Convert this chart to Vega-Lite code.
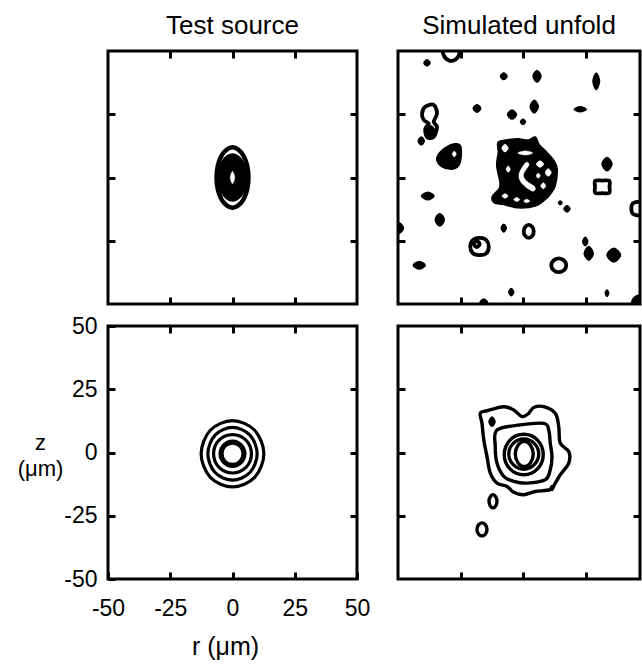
{
"$schema":"https://vega.github.io/schema/vega-lite/v6.json",
"padding":{"left":15,"top":11,"right":0,"bottom":0},
"bounds":"flush",
"columns":2,
"spacing":{"row":22,"column":41},
"datasets":{
"lines":[
{"p":"TL","c":"e1","o":1,"x":6.4,"y":0},{"p":"TL","c":"e1","o":2,"x":4.5,"y":8.5},{"p":"TL","c":"e1","o":3,"x":0,"y":12},{"p":"TL","c":"e1","o":4,"x":-4.5,"y":8.5},{"p":"TL","c":"e1","o":5,"x":-6.4,"y":0},{"p":"TL","c":"e1","o":6,"x":-4.5,"y":-8.5},{"p":"TL","c":"e1","o":7,"x":0,"y":-12},{"p":"TL","c":"e1","o":8,"x":4.5,"y":-8.5},
{"p":"BL","c":"c1","o":1,"x":12.6,"y":-0.5},{"p":"BL","c":"c1","o":2,"x":8.9,"y":8.8},{"p":"BL","c":"c1","o":3,"x":0,"y":12.6},{"p":"BL","c":"c1","o":4,"x":-8.9,"y":8.8},{"p":"BL","c":"c1","o":5,"x":-12.6,"y":-0.5},{"p":"BL","c":"c1","o":6,"x":-8.9,"y":-9.8},{"p":"BL","c":"c1","o":7,"x":0,"y":-13.6},{"p":"BL","c":"c1","o":8,"x":8.9,"y":-9.8},
{"p":"BL","c":"c2","o":1,"x":9.9,"y":-0.5},{"p":"BL","c":"c2","o":2,"x":7,"y":6.9},{"p":"BL","c":"c2","o":3,"x":0,"y":9.9},{"p":"BL","c":"c2","o":4,"x":-7,"y":6.9},{"p":"BL","c":"c2","o":5,"x":-9.9,"y":-0.5},{"p":"BL","c":"c2","o":6,"x":-7,"y":-7.9},{"p":"BL","c":"c2","o":7,"x":0,"y":-10.9},{"p":"BL","c":"c2","o":8,"x":7,"y":-7.9},
{"p":"BL","c":"c3","o":1,"x":7.6,"y":-0.5},{"p":"BL","c":"c3","o":2,"x":5.4,"y":4.9},{"p":"BL","c":"c3","o":3,"x":0,"y":7.1},{"p":"BL","c":"c3","o":4,"x":-5.4,"y":4.9},{"p":"BL","c":"c3","o":5,"x":-7.6,"y":-0.5},{"p":"BL","c":"c3","o":6,"x":-5.4,"y":-5.9},{"p":"BL","c":"c3","o":7,"x":0,"y":-8.1},{"p":"BL","c":"c3","o":8,"x":5.4,"y":-5.9},
{"p":"BL","c":"c4","o":1,"x":5,"y":-0.5},{"p":"BL","c":"c4","o":2,"x":3.5,"y":3},{"p":"BL","c":"c4","o":3,"x":0,"y":4.5},{"p":"BL","c":"c4","o":4,"x":-3.5,"y":3},{"p":"BL","c":"c4","o":5,"x":-5,"y":-0.5},{"p":"BL","c":"c4","o":6,"x":-3.5,"y":-4},{"p":"BL","c":"c4","o":7,"x":0,"y":-5.5},{"p":"BL","c":"c4","o":8,"x":3.5,"y":-4},
{"p":"BL","c":"c5","o":1,"x":4.2,"y":-0.5},{"p":"BL","c":"c5","o":2,"x":3,"y":2.5},{"p":"BL","c":"c5","o":3,"x":0,"y":3.7},{"p":"BL","c":"c5","o":4,"x":-3,"y":2.5},{"p":"BL","c":"c5","o":5,"x":-4.2,"y":-0.5},{"p":"BL","c":"c5","o":6,"x":-3,"y":-3.5},{"p":"BL","c":"c5","o":7,"x":0,"y":-4.7},{"p":"BL","c":"c5","o":8,"x":3,"y":-3.5},
{"p":"BR","c":"o1","o":1,"x":-17.1,"y":15.5},{"p":"BR","c":"o1","o":2,"x":-14.4,"y":16.5},{"p":"BR","c":"o1","o":3,"x":-7.7,"y":18.1},{"p":"BR","c":"o1","o":4,"x":-3.7,"y":16.8},{"p":"BR","c":"o1","o":5,"x":-0.4,"y":14.2},{"p":"BR","c":"o1","o":6,"x":2.3,"y":15.5},{"p":"BR","c":"o1","o":7,"x":4.3,"y":17.8},{"p":"BR","c":"o1","o":8,"x":8.3,"y":18.1},{"p":"BR","c":"o1","o":9,"x":12.9,"y":15.5},{"p":"BR","c":"o1","o":10,"x":14.3,"y":10.2},{"p":"BR","c":"o1","o":11,"x":14.9,"y":3.7},{"p":"BR","c":"o1","o":12,"x":18.3,"y":0.4},{"p":"BR","c":"o1","o":13,"x":18.3,"y":-4.2},{"p":"BR","c":"o1","o":14,"x":14.9,"y":-8.8},{"p":"BR","c":"o1","o":15,"x":12.9,"y":-12.1},{"p":"BR","c":"o1","o":16,"x":10.9,"y":-14.7},{"p":"BR","c":"o1","o":17,"x":4.9,"y":-15.4},{"p":"BR","c":"o1","o":18,"x":0.3,"y":-16.7},{"p":"BR","c":"o1","o":19,"x":-3.7,"y":-15.7},{"p":"BR","c":"o1","o":20,"x":-6.4,"y":-13.4},{"p":"BR","c":"o1","o":21,"x":-10.4,"y":-12.1},{"p":"BR","c":"o1","o":22,"x":-13.1,"y":-8.1},{"p":"BR","c":"o1","o":23,"x":-14.4,"y":-1.6},{"p":"BR","c":"o1","o":24,"x":-15.7,"y":5},{"p":"BR","c":"o1","o":25,"x":-16.4,"y":11.5},
{"p":"BR","c":"o2","o":1,"x":-10.4,"y":8.9},{"p":"BR","c":"o2","o":2,"x":-1.1,"y":10.9},{"p":"BR","c":"o2","o":3,"x":8.3,"y":11.5},{"p":"BR","c":"o2","o":4,"x":10.3,"y":8.9},{"p":"BR","c":"o2","o":5,"x":10.9,"y":3.7},{"p":"BR","c":"o2","o":6,"x":11.6,"y":-1.6},{"p":"BR","c":"o2","o":7,"x":10.9,"y":-6.8},{"p":"BR","c":"o2","o":8,"x":8.9,"y":-10.8},{"p":"BR","c":"o2","o":9,"x":1.6,"y":-12.1},{"p":"BR","c":"o2","o":10,"x":-3.7,"y":-11.4},{"p":"BR","c":"o2","o":11,"x":-7.7,"y":-9.4},{"p":"BR","c":"o2","o":12,"x":-10.4,"y":-4.2},{"p":"BR","c":"o2","o":13,"x":-11.1,"y":2.4},
{"p":"BR","c":"o3","o":1,"x":8.1,"y":-0.8},{"p":"BR","c":"o3","o":2,"x":5.8,"y":4.9},{"p":"BR","c":"o3","o":3,"x":0.3,"y":7.2},{"p":"BR","c":"o3","o":4,"x":-5.2,"y":4.9},{"p":"BR","c":"o3","o":5,"x":-7.5,"y":-0.8},{"p":"BR","c":"o3","o":6,"x":-5.2,"y":-6.5},{"p":"BR","c":"o3","o":7,"x":0.3,"y":-8.8},{"p":"BR","c":"o3","o":8,"x":5.8,"y":-6.5},
{"p":"BR","c":"o4","o":1,"x":6.3,"y":-0.6},{"p":"BR","c":"o4","o":2,"x":4.5,"y":3.6},{"p":"BR","c":"o4","o":3,"x":0.3,"y":5.4},{"p":"BR","c":"o4","o":4,"x":-3.9,"y":3.6},{"p":"BR","c":"o4","o":5,"x":-5.7,"y":-0.6},{"p":"BR","c":"o4","o":6,"x":-3.9,"y":-4.8},{"p":"BR","c":"o4","o":7,"x":0.3,"y":-6.6},{"p":"BR","c":"o4","o":8,"x":4.5,"y":-4.8},
{"p":"BR","c":"o5","o":1,"x":4.1,"y":-0.6},{"p":"BR","c":"o5","o":2,"x":3,"y":2.9},{"p":"BR","c":"o5","o":3,"x":0.5,"y":4.4},{"p":"BR","c":"o5","o":4,"x":-2,"y":2.9},{"p":"BR","c":"o5","o":5,"x":-3.1,"y":-0.6},{"p":"BR","c":"o5","o":6,"x":-2,"y":-4.1},{"p":"BR","c":"o5","o":7,"x":0.5,"y":-5.6},{"p":"BR","c":"o5","o":8,"x":3,"y":-4.1},
{"p":"BR","c":"o6","o":1,"x":-10.4,"y":-19.3},{"p":"BR","c":"o6","o":2,"x":-10.9,"y":-17.5},{"p":"BR","c":"o6","o":3,"x":-12,"y":-16.7},{"p":"BR","c":"o6","o":4,"x":-13.1,"y":-17.5},{"p":"BR","c":"o6","o":5,"x":-13.6,"y":-19.3},{"p":"BR","c":"o6","o":6,"x":-13.1,"y":-21.1},{"p":"BR","c":"o6","o":7,"x":-12,"y":-21.9},{"p":"BR","c":"o6","o":8,"x":-10.9,"y":-21.1},
{"p":"BR","c":"o7","o":1,"x":-14.4,"y":-30.4},{"p":"BR","c":"o7","o":2,"x":-15,"y":-28.6},{"p":"BR","c":"o7","o":3,"x":-16.4,"y":-27.8},{"p":"BR","c":"o7","o":4,"x":-17.8,"y":-28.6},{"p":"BR","c":"o7","o":5,"x":-18.4,"y":-30.4},{"p":"BR","c":"o7","o":6,"x":-17.8,"y":-32.2},{"p":"BR","c":"o7","o":7,"x":-16.4,"y":-33},{"p":"BR","c":"o7","o":8,"x":-15,"y":-32.2},
{"p":"TR","c":"t1","o":1,"x":-31.8,"y":52},{"p":"TR","c":"t1","o":2,"x":-31.7,"y":48.3},{"p":"TR","c":"t1","o":3,"x":-29.5,"y":46.2},{"p":"TR","c":"t1","o":4,"x":-27,"y":46.6},{"p":"TR","c":"t1","o":5,"x":-25.6,"y":48.5},{"p":"TR","c":"t1","o":6,"x":-25.4,"y":52},
{"p":"TR","c":"t2","o":1,"x":-40.4,"y":25.3},{"p":"TR","c":"t2","o":2,"x":-39.1,"y":28},{"p":"TR","c":"t2","o":3,"x":-35.7,"y":28.7},{"p":"TR","c":"t2","o":4,"x":-34.4,"y":25.3},{"p":"TR","c":"t2","o":5,"x":-35.7,"y":22},{"p":"TR","c":"t2","o":6,"x":-34.4,"y":20},{"p":"TR","c":"t2","o":7,"x":-35.7,"y":16},{"p":"TR","c":"t2","o":8,"x":-38.4,"y":16},{"p":"TR","c":"t2","o":9,"x":-39.1,"y":19.3},{"p":"TR","c":"t2","o":10,"x":-37.7,"y":21.3},{"p":"TR","c":"t2","o":11,"x":-39.7,"y":22.7},
{"p":"TR","c":"t3","o":1,"x":28.9,"y":-1.3},{"p":"TR","c":"t3","o":2,"x":31.7,"y":-1.2},{"p":"TR","c":"t3","o":3,"x":34.5,"y":-1.3},{"p":"TR","c":"t3","o":4,"x":34.6,"y":-3.7},{"p":"TR","c":"t3","o":5,"x":34.5,"y":-6.1},{"p":"TR","c":"t3","o":6,"x":31.7,"y":-6.2},{"p":"TR","c":"t3","o":7,"x":28.9,"y":-6.1},{"p":"TR","c":"t3","o":8,"x":28.8,"y":-3.7},
{"p":"TR","c":"t4","o":1,"x":48.5,"y":-9.9},{"p":"TR","c":"t4","o":2,"x":44.5,"y":-9.9},{"p":"TR","c":"t4","o":3,"x":43.5,"y":-11},{"p":"TR","c":"t4","o":4,"x":43.5,"y":-13.5},{"p":"TR","c":"t4","o":5,"x":44.5,"y":-14.7},{"p":"TR","c":"t4","o":6,"x":48.5,"y":-14.7},
{"p":"TR","c":"t5","o":1,"x":4.3,"y":-21.3},{"p":"TR","c":"t5","o":2,"x":3.7,"y":-19.5},{"p":"TR","c":"t5","o":3,"x":2.3,"y":-18.7},{"p":"TR","c":"t5","o":4,"x":0.9,"y":-19.5},{"p":"TR","c":"t5","o":5,"x":0.3,"y":-21.3},{"p":"TR","c":"t5","o":6,"x":0.9,"y":-23.1},{"p":"TR","c":"t5","o":7,"x":2.3,"y":-23.9},{"p":"TR","c":"t5","o":8,"x":3.7,"y":-23.1},
{"p":"TR","c":"t6","o":1,"x":-13.7,"y":-27.5},{"p":"TR","c":"t6","o":2,"x":-14.6,"y":-24.8},{"p":"TR","c":"t6","o":3,"x":-17.2,"y":-23.9},{"p":"TR","c":"t6","o":4,"x":-19.9,"y":-24.6},{"p":"TR","c":"t6","o":5,"x":-21.1,"y":-27},{"p":"TR","c":"t6","o":6,"x":-20.2,"y":-29.8},{"p":"TR","c":"t6","o":7,"x":-17.6,"y":-30.7},{"p":"TR","c":"t6","o":8,"x":-14.8,"y":-30.1},
{"p":"TR","c":"t6b","o":1,"x":-17.3,"y":-26.3},{"p":"TR","c":"t6b","o":2,"x":-18.5,"y":-25.1},{"p":"TR","c":"t6b","o":3,"x":-19.7,"y":-26.3},{"p":"TR","c":"t6b","o":4,"x":-18.5,"y":-27.5},
{"p":"TR","c":"t7","o":1,"x":17.3,"y":-34.7},{"p":"TR","c":"t7","o":2,"x":16.4,"y":-32.8},{"p":"TR","c":"t7","o":3,"x":14.3,"y":-32},{"p":"TR","c":"t7","o":4,"x":12.2,"y":-32.8},{"p":"TR","c":"t7","o":5,"x":11.3,"y":-34.7},{"p":"TR","c":"t7","o":6,"x":12.2,"y":-36.6},{"p":"TR","c":"t7","o":7,"x":14.3,"y":-37.4},{"p":"TR","c":"t7","o":8,"x":16.4,"y":-36.6}
],
"blobs":[
{"p":"TL","c":"f1","o":1,"x":5.6,"y":0},{"p":"TL","c":"f1","o":2,"x":4,"y":6.6},{"p":"TL","c":"f1","o":3,"x":0,"y":9.3},{"p":"TL","c":"f1","o":4,"x":-4,"y":6.6},{"p":"TL","c":"f1","o":5,"x":-5.6,"y":0},{"p":"TL","c":"f1","o":6,"x":-4,"y":-6.6},{"p":"TL","c":"f1","o":7,"x":0,"y":-9.3},{"p":"TL","c":"f1","o":8,"x":4,"y":-6.6},
{"p":"TR","c":"b2","o":1,"x":-37.2,"y":45.3},{"p":"TR","c":"b2","o":2,"x":-38.4,"y":46.5},{"p":"TR","c":"b2","o":3,"x":-39.6,"y":45.3},{"p":"TR","c":"b2","o":4,"x":-38.4,"y":44.1},
{"p":"TR","c":"b3","o":1,"x":-6.4,"y":40},{"p":"TR","c":"b3","o":2,"x":-7.7,"y":41.3},{"p":"TR","c":"b3","o":3,"x":-9,"y":40},{"p":"TR","c":"b3","o":4,"x":-7.7,"y":38.7},
{"p":"TR","c":"b4","o":1,"x":7.2,"y":40},{"p":"TR","c":"b4","o":2,"x":5.6,"y":42.3},{"p":"TR","c":"b4","o":3,"x":4,"y":40},{"p":"TR","c":"b4","o":4,"x":5.6,"y":37.7},
{"p":"TR","c":"b5","o":1,"x":30.6,"y":38},{"p":"TR","c":"b5","o":2,"x":29.3,"y":41.3},{"p":"TR","c":"b5","o":3,"x":28,"y":38},{"p":"TR","c":"b5","o":4,"x":29.3,"y":34.7},
{"p":"TR","c":"b6","o":1,"x":-16.9,"y":27.3},{"p":"TR","c":"b6","o":2,"x":-18.4,"y":28.8},{"p":"TR","c":"b6","o":3,"x":-19.9,"y":27.3},{"p":"TR","c":"b6","o":4,"x":-18.4,"y":25.8},
{"p":"TR","c":"b7","o":1,"x":-2.6,"y":24.9},{"p":"TR","c":"b7","o":2,"x":-4.4,"y":26.7},{"p":"TR","c":"b7","o":3,"x":-6.2,"y":24.9},{"p":"TR","c":"b7","o":4,"x":-4.4,"y":23.1},
{"p":"TR","c":"b8","o":1,"x":6.1,"y":28},{"p":"TR","c":"b8","o":2,"x":4.5,"y":30.5},{"p":"TR","c":"b8","o":3,"x":2.9,"y":28},{"p":"TR","c":"b8","o":4,"x":4.5,"y":25.5},
{"p":"TR","c":"b9","o":1,"x":25.3,"y":27},{"p":"TR","c":"b9","o":2,"x":22.9,"y":28},{"p":"TR","c":"b9","o":3,"x":20.5,"y":27},{"p":"TR","c":"b9","o":4,"x":22.9,"y":26},
{"p":"TR","c":"b10","o":1,"x":1,"y":22},{"p":"TR","c":"b10","o":2,"x":0,"y":23},{"p":"TR","c":"b10","o":3,"x":-1,"y":22},{"p":"TR","c":"b10","o":4,"x":0,"y":21},
{"p":"TR","c":"b12","o":1,"x":-35.2,"y":18.3},{"p":"TR","c":"b12","o":2,"x":-37,"y":20.5},{"p":"TR","c":"b12","o":3,"x":-38.8,"y":18.3},{"p":"TR","c":"b12","o":4,"x":-37,"y":16.1},
{"p":"TR","c":"b13","o":1,"x":-39.5,"y":14.4},{"p":"TR","c":"b13","o":2,"x":-40.7,"y":16},{"p":"TR","c":"b13","o":3,"x":-41.9,"y":14.4},{"p":"TR","c":"b13","o":4,"x":-40.7,"y":12.8},
{"p":"TR","c":"b14","o":1,"x":-34.4,"y":8},{"p":"TR","c":"b14","o":2,"x":-31.7,"y":11.3},{"p":"TR","c":"b14","o":3,"x":-27.1,"y":13.3},{"p":"TR","c":"b14","o":4,"x":-24.8,"y":12},{"p":"TR","c":"b14","o":5,"x":-25.1,"y":6},{"p":"TR","c":"b14","o":6,"x":-27.1,"y":3.6},{"p":"TR","c":"b14","o":7,"x":-31.1,"y":3.6},{"p":"TR","c":"b14","o":8,"x":-33.7,"y":5.3},
{"p":"TR","c":"b15","o":1,"x":-9.9,"y":14},{"p":"TR","c":"b15","o":2,"x":-5.5,"y":15},{"p":"TR","c":"b15","o":3,"x":-1.9,"y":15.3},{"p":"TR","c":"b15","o":4,"x":2,"y":14.8},{"p":"TR","c":"b15","o":5,"x":4.9,"y":16},{"p":"TR","c":"b15","o":6,"x":6.5,"y":13},{"p":"TR","c":"b15","o":7,"x":9.5,"y":10},{"p":"TR","c":"b15","o":8,"x":12.5,"y":6.5},{"p":"TR","c":"b15","o":9,"x":13.7,"y":3.3},{"p":"TR","c":"b15","o":10,"x":12.9,"y":-3.3},{"p":"TR","c":"b15","o":11,"x":11,"y":-6.5},{"p":"TR","c":"b15","o":12,"x":8.9,"y":-8.7},{"p":"TR","c":"b15","o":13,"x":4.9,"y":-11.3},{"p":"TR","c":"b15","o":14,"x":-1.9,"y":-12},{"p":"TR","c":"b15","o":15,"x":-7.7,"y":-10.7},{"p":"TR","c":"b15","o":16,"x":-11.5,"y":-10},{"p":"TR","c":"b15","o":17,"x":-12.3,"y":-7.5},{"p":"TR","c":"b15","o":18,"x":-9.6,"y":-4.5},{"p":"TR","c":"b15","o":19,"x":-9.2,"y":-2},{"p":"TR","c":"b15","o":20,"x":-10.5,"y":4.7},{"p":"TR","c":"b15","o":21,"x":-9.9,"y":10},
{"p":"TR","c":"b16","o":1,"x":35.6,"y":5.3},{"p":"TR","c":"b16","o":2,"x":33.6,"y":7.9},{"p":"TR","c":"b16","o":3,"x":31.6,"y":5.3},{"p":"TR","c":"b16","o":4,"x":33.6,"y":2.7},
{"p":"TR","c":"b19","o":1,"x":-35.6,"y":-7.3},{"p":"TR","c":"b19","o":2,"x":-38.1,"y":-5.8},{"p":"TR","c":"b19","o":3,"x":-40.6,"y":-7.3},{"p":"TR","c":"b19","o":4,"x":-38.1,"y":-8.8},
{"p":"TR","c":"b20","o":1,"x":-31.5,"y":-16.7},{"p":"TR","c":"b20","o":2,"x":-33.3,"y":-14.2},{"p":"TR","c":"b20","o":3,"x":-35.1,"y":-16.7},{"p":"TR","c":"b20","o":4,"x":-33.3,"y":-19.2},
{"p":"TR","c":"b21a","o":1,"x":15.6,"y":-10},{"p":"TR","c":"b21a","o":2,"x":14.9,"y":-9.3},{"p":"TR","c":"b21a","o":3,"x":14.2,"y":-10},{"p":"TR","c":"b21a","o":4,"x":14.9,"y":-10.7},
{"p":"TR","c":"b21b","o":1,"x":18.8,"y":-12.4},{"p":"TR","c":"b21b","o":2,"x":17.6,"y":-11.2},{"p":"TR","c":"b21b","o":3,"x":16.4,"y":-12.4},{"p":"TR","c":"b21b","o":4,"x":17.6,"y":-13.6},
{"p":"TR","c":"b22","o":1,"x":-6.7,"y":-20},{"p":"TR","c":"b22","o":2,"x":-7.7,"y":-18.5},{"p":"TR","c":"b22","o":3,"x":-8.7,"y":-20},{"p":"TR","c":"b22","o":4,"x":-7.7,"y":-21.5},
{"p":"TR","c":"b24","o":1,"x":-47.8,"y":-20},{"p":"TR","c":"b24","o":2,"x":-49.5,"y":-18},{"p":"TR","c":"b24","o":3,"x":-51.2,"y":-20},{"p":"TR","c":"b24","o":4,"x":-49.5,"y":-22},
{"p":"TR","c":"b26","o":1,"x":25.9,"y":-25.3},{"p":"TR","c":"b26","o":2,"x":24.9,"y":-23.6},{"p":"TR","c":"b26","o":3,"x":23.9,"y":-25.3},{"p":"TR","c":"b26","o":4,"x":24.9,"y":-27},
{"p":"TR","c":"b27","o":1,"x":28.1,"y":-30},{"p":"TR","c":"b27","o":2,"x":26.3,"y":-27.3},{"p":"TR","c":"b27","o":3,"x":24.5,"y":-30},{"p":"TR","c":"b27","o":4,"x":26.3,"y":-32.7},
{"p":"TR","c":"b28","o":1,"x":39,"y":-30.7},{"p":"TR","c":"b28","o":2,"x":36.3,"y":-28},{"p":"TR","c":"b28","o":3,"x":33.6,"y":-30.7},{"p":"TR","c":"b28","o":4,"x":36.3,"y":-33.4},
{"p":"TR","c":"b30","o":1,"x":-39.1,"y":-34.7},{"p":"TR","c":"b30","o":2,"x":-41.5,"y":-33.2},{"p":"TR","c":"b30","o":3,"x":-43.9,"y":-34.7},{"p":"TR","c":"b30","o":4,"x":-41.5,"y":-36.2},
{"p":"TR","c":"b31","o":1,"x":-3.7,"y":-45.3},{"p":"TR","c":"b31","o":2,"x":-4.7,"y":-43.9},{"p":"TR","c":"b31","o":3,"x":-5.7,"y":-45.3},{"p":"TR","c":"b31","o":4,"x":-4.7,"y":-46.7},
{"p":"TR","c":"b32","o":1,"x":34.3,"y":-45.7},{"p":"TR","c":"b32","o":2,"x":33.6,"y":-44.5},{"p":"TR","c":"b32","o":3,"x":32.9,"y":-45.7},{"p":"TR","c":"b32","o":4,"x":33.6,"y":-46.9},
{"p":"TR","c":"b33","o":1,"x":48.5,"y":-49},{"p":"TR","c":"b33","o":2,"x":46,"y":-46.5},{"p":"TR","c":"b33","o":3,"x":43.5,"y":-49},{"p":"TR","c":"b33","o":4,"x":46,"y":-51.5},
{"p":"TR","c":"b34","o":1,"x":-14.2,"y":-49.5},{"p":"TR","c":"b34","o":2,"x":-15.7,"y":-48},{"p":"TR","c":"b34","o":3,"x":-17.2,"y":-49.5},{"p":"TR","c":"b34","o":4,"x":-15.7,"y":-51},
{"p":"BR","c":"r1","o":1,"x":-11.2,"y":12.2},{"p":"BR","c":"r1","o":2,"x":-12.4,"y":14},{"p":"BR","c":"r1","o":3,"x":-13.6,"y":12.2},{"p":"BR","c":"r1","o":4,"x":-12.4,"y":10.4},
{"p":"BR","c":"r2","o":1,"x":12.3,"y":-14},{"p":"BR","c":"r2","o":2,"x":11.6,"y":-13},{"p":"BR","c":"r2","o":3,"x":10.9,"y":-14},{"p":"BR","c":"r2","o":4,"x":11.6,"y":-15}
],
"holes":[
{"p":"TL","c":"g1","o":1,"x":0.9,"y":0},{"p":"TL","c":"g1","o":2,"x":0,"y":2.4},{"p":"TL","c":"g1","o":3,"x":-0.9,"y":0},{"p":"TL","c":"g1","o":4,"x":0,"y":-2.4},
{"p":"TR","c":"h1","o":1,"x":-5.9,"y":11.6},{"p":"TR","c":"h1","o":2,"x":-7.2,"y":13.1},{"p":"TR","c":"h1","o":3,"x":-8.5,"y":11.6},{"p":"TR","c":"h1","o":4,"x":-7.2,"y":10.1},
{"p":"TR","c":"h2","o":1,"x":3.9,"y":9.7},{"p":"TR","c":"h2","o":2,"x":0.9,"y":10.5},{"p":"TR","c":"h2","o":3,"x":-2.1,"y":9.7},{"p":"TR","c":"h2","o":4,"x":0.9,"y":8.9},
{"p":"TR","c":"h3","o":1,"x":1,"y":5.8},{"p":"TR","c":"h3","o":2,"x":-1.6,"y":1.3},{"p":"TR","c":"h3","o":3,"x":-0.4,"y":-2.4},{"p":"TR","c":"h3","o":4,"x":3.8,"y":-5.4},{"p":"TR","c":"h3","o":5,"x":4.8,"y":-3.8},{"p":"TR","c":"h3","o":6,"x":1.2,"y":-1.2},{"p":"TR","c":"h3","o":7,"x":0.2,"y":1.3},{"p":"TR","c":"h3","o":8,"x":2.4,"y":5},
{"p":"TR","c":"h4","o":1,"x":8.3,"y":5.3},{"p":"TR","c":"h4","o":2,"x":6.8,"y":6.6},{"p":"TR","c":"h4","o":3,"x":5.3,"y":5.3},{"p":"TR","c":"h4","o":4,"x":6.8,"y":4},
{"p":"TR","c":"h5","o":1,"x":11.3,"y":2},{"p":"TR","c":"h5","o":2,"x":10.1,"y":3.5},{"p":"TR","c":"h5","o":3,"x":8.9,"y":2},{"p":"TR","c":"h5","o":4,"x":10.1,"y":0.5},
{"p":"TR","c":"h6","o":1,"x":6.9,"y":0.7},{"p":"TR","c":"h6","o":2,"x":6.1,"y":1.7},{"p":"TR","c":"h6","o":3,"x":5.3,"y":0.7},{"p":"TR","c":"h6","o":4,"x":6.1,"y":-0.3},
{"p":"TR","c":"h7","o":1,"x":-6,"y":-7.3},{"p":"TR","c":"h7","o":2,"x":-7.2,"y":-6.4},{"p":"TR","c":"h7","o":3,"x":-8.4,"y":-7.3},{"p":"TR","c":"h7","o":4,"x":-7.2,"y":-8.2},
{"p":"TR","c":"h8","o":1,"x":-1.3,"y":-8.7},{"p":"TR","c":"h8","o":2,"x":-2.5,"y":-7.9},{"p":"TR","c":"h8","o":3,"x":-3.7,"y":-8.7},{"p":"TR","c":"h8","o":4,"x":-2.5,"y":-9.5},
{"p":"TR","c":"h9","o":1,"x":2.7,"y":-9.3},{"p":"TR","c":"h9","o":2,"x":1.5,"y":-8.6},{"p":"TR","c":"h9","o":3,"x":0.3,"y":-9.3},{"p":"TR","c":"h9","o":4,"x":1.5,"y":-10},
{"p":"TR","c":"h10","o":1,"x":-5.1,"y":3.3},{"p":"TR","c":"h10","o":2,"x":-5.9,"y":4.5},{"p":"TR","c":"h10","o":3,"x":-6.7,"y":3.3},{"p":"TR","c":"h10","o":4,"x":-5.9,"y":2.1},
{"p":"TR","c":"h11","o":1,"x":9.1,"y":-3.3},{"p":"TR","c":"h11","o":2,"x":8.1,"y":-2.1},{"p":"TR","c":"h11","o":3,"x":7.1,"y":-3.3},{"p":"TR","c":"h11","o":4,"x":8.1,"y":-4.5},
{"p":"TR","c":"h12","o":1,"x":-28.3,"y":9.3},{"p":"TR","c":"h12","o":2,"x":-27.5,"y":10.4},{"p":"TR","c":"h12","o":3,"x":-26.7,"y":9.3},{"p":"TR","c":"h12","o":4,"x":-27.5,"y":8.2}
]
},
"concat":[
{"width":249,"height":253,"title":"Test source",
 "layer":[
  {"data":{"name":"lines"},"transform":[{"filter":"datum.p==='TL'"}],
   "mark":{"type":"line","interpolate":"cardinal-closed","stroke":"black","strokeWidth":4.5,"clip":true},
   "encoding":{
    "x":{"field":"x","type":"quantitative","scale":{"domain":[-50,50],"nice":false},"axis":{"orient":"bottom","values":[-25,0,25],"labels":false,"title":null}},
    "y":{"field":"y","type":"quantitative","scale":{"domain":[-50,50],"nice":false},"axis":{"orient":"left","values":[-25,0,25],"labels":false,"title":null}},
    "detail":{"field":"c"},"order":{"field":"o","type":"quantitative"}}},
  {"data":{"name":"blobs"},"transform":[{"filter":"datum.p==='TL'"}],
   "mark":{"type":"line","interpolate":"cardinal-closed","fill":"black","stroke":"black","strokeWidth":1.5,"clip":true},
   "encoding":{
    "x":{"field":"x","type":"quantitative","scale":{"domain":[-50,50],"nice":false},"axis":{"orient":"top","values":[-25,0,25],"labels":false,"title":null}},
    "y":{"field":"y","type":"quantitative","scale":{"domain":[-50,50],"nice":false},"axis":{"orient":"right","values":[-25,0,25],"labels":false,"title":null}},
    "detail":{"field":"c"},"order":{"field":"o","type":"quantitative"}}},
  {"data":{"name":"holes"},"transform":[{"filter":"datum.p==='TL'"}],
   "mark":{"type":"line","interpolate":"cardinal-closed","fill":"white","stroke":"white","strokeWidth":0.5,"clip":true},
   "encoding":{
    "x":{"field":"x","type":"quantitative","scale":{"domain":[-50,50],"nice":false},"axis":null},
    "y":{"field":"y","type":"quantitative","scale":{"domain":[-50,50],"nice":false},"axis":null},
    "detail":{"field":"c"},"order":{"field":"o","type":"quantitative"}}}
 ]},
{"width":242,"height":253,"title":"Simulated unfold",
 "layer":[
  {"data":{"name":"lines"},"transform":[{"filter":"datum.p==='TR'"}],
   "mark":{"type":"line","interpolate":"cardinal-closed","stroke":"black","strokeWidth":3.8,"clip":true},
   "encoding":{
    "x":{"field":"x","type":"quantitative","scale":{"domain":[-50,46.8],"nice":false},"axis":{"orient":"bottom","values":[-25,0,25],"labels":false,"title":null}},
    "y":{"field":"y","type":"quantitative","scale":{"domain":[-50,50],"nice":false},"axis":{"orient":"left","values":[-25,0,25],"labels":false,"title":null}},
    "detail":{"field":"c"},"order":{"field":"o","type":"quantitative"}}},
  {"data":{"name":"blobs"},"transform":[{"filter":"datum.p==='TR'"}],
   "mark":{"type":"line","interpolate":"cardinal-closed","fill":"black","stroke":"black","strokeWidth":1.5,"clip":true},
   "encoding":{
    "x":{"field":"x","type":"quantitative","scale":{"domain":[-50,46.8],"nice":false},"axis":{"orient":"top","values":[-25,0,25],"labels":false,"title":null}},
    "y":{"field":"y","type":"quantitative","scale":{"domain":[-50,50],"nice":false},"axis":{"orient":"right","values":[-25,0,25],"labels":false,"title":null}},
    "detail":{"field":"c"},"order":{"field":"o","type":"quantitative"}}},
  {"data":{"name":"holes"},"transform":[{"filter":"datum.p==='TR'"}],
   "mark":{"type":"line","interpolate":"cardinal-closed","fill":"white","stroke":"white","strokeWidth":0.5,"clip":true},
   "encoding":{
    "x":{"field":"x","type":"quantitative","scale":{"domain":[-50,46.8],"nice":false},"axis":null},
    "y":{"field":"y","type":"quantitative","scale":{"domain":[-50,50],"nice":false},"axis":null},
    "detail":{"field":"c"},"order":{"field":"o","type":"quantitative"}}}
 ]},
{"width":249,"height":253,
 "layer":[
  {"data":{"name":"lines"},"transform":[{"filter":"datum.p==='BL'"}],
   "mark":{"type":"line","interpolate":"cardinal-closed","stroke":"black","strokeWidth":3.2,"clip":true},
   "encoding":{
    "x":{"field":"x","type":"quantitative","scale":{"domain":[-50,50],"nice":false},"axis":{"orient":"bottom","values":[-50,-25,0,25,50],"labelExpr":"''+datum.value","labelFlush":false,"labelFontSize":23,"labelPadding":25,"title":"r (μm)","titleFontSize":25,"titleFontWeight":"normal","titleX":117,"titleY":75,"titleBaseline":"alphabetic","titleAlign":"center"}},
    "y":{"field":"y","type":"quantitative","scale":{"domain":[-50,50],"nice":false},"axis":{"orient":"left","values":[-50,-25,0,25,50],"labelExpr":"''+datum.value","labelFlush":false,"labelFontSize":23,"labelPadding":18,"title":["z","(μm)"],"titleAngle":0,"titleFontSize":22,"titleFontWeight":"normal","titleX":-68,"titleY":116,"titleAlign":"center","titleBaseline":"middle","titleLineHeight":26}},
    "detail":{"field":"c"},"order":{"field":"o","type":"quantitative"}}},
  {"data":{"name":"blobs"},"transform":[{"filter":"datum.p==='BL'"}],
   "mark":{"type":"line","interpolate":"cardinal-closed","fill":"black","stroke":"black","strokeWidth":1.5,"clip":true},
   "encoding":{
    "x":{"field":"x","type":"quantitative","scale":{"domain":[-50,50],"nice":false},"axis":{"orient":"top","values":[-25,0,25],"labels":false,"title":null}},
    "y":{"field":"y","type":"quantitative","scale":{"domain":[-50,50],"nice":false},"axis":{"orient":"right","values":[-25,0,25],"labels":false,"title":null}},
    "detail":{"field":"c"},"order":{"field":"o","type":"quantitative"}}}
 ]},
{"width":242,"height":253,
 "layer":[
  {"data":{"name":"lines"},"transform":[{"filter":"datum.p==='BR'"}],
   "mark":{"type":"line","interpolate":"cardinal-closed","stroke":"black","strokeWidth":3.4,"clip":true},
   "encoding":{
    "x":{"field":"x","type":"quantitative","scale":{"domain":[-50,46.8],"nice":false},"axis":{"orient":"bottom","values":[-25,0,25],"labels":false,"title":null}},
    "y":{"field":"y","type":"quantitative","scale":{"domain":[-50,50],"nice":false},"axis":{"orient":"left","values":[-25,0,25],"labels":false,"title":null}},
    "detail":{"field":"c"},"order":{"field":"o","type":"quantitative"}}},
  {"data":{"name":"blobs"},"transform":[{"filter":"datum.p==='BR'"}],
   "mark":{"type":"line","interpolate":"cardinal-closed","fill":"black","stroke":"black","strokeWidth":1.5,"clip":true},
   "encoding":{
    "x":{"field":"x","type":"quantitative","scale":{"domain":[-50,46.8],"nice":false},"axis":{"orient":"top","values":[-25,0,25],"labels":false,"title":null}},
    "y":{"field":"y","type":"quantitative","scale":{"domain":[-50,50],"nice":false},"axis":{"orient":"right","values":[-25,0,25],"labels":false,"title":null}},
    "detail":{"field":"c"},"order":{"field":"o","type":"quantitative"}}}
 ]}
],
"config":{
 "view":{"stroke":"black","strokeWidth":3},
 "axis":{"grid":false,"domain":false,"ticks":true,"tickColor":"black","tickWidth":3,"tickSize":-7,"labelFont":"Liberation Sans","labelColor":"black","titleFont":"Liberation Sans","titleColor":"black"},
 "title":{"font":"Liberation Sans","fontSize":26,"fontWeight":"normal","color":"black","offset":11},
 "line":{"strokeCap":"round","strokeJoin":"round"}
}
}
